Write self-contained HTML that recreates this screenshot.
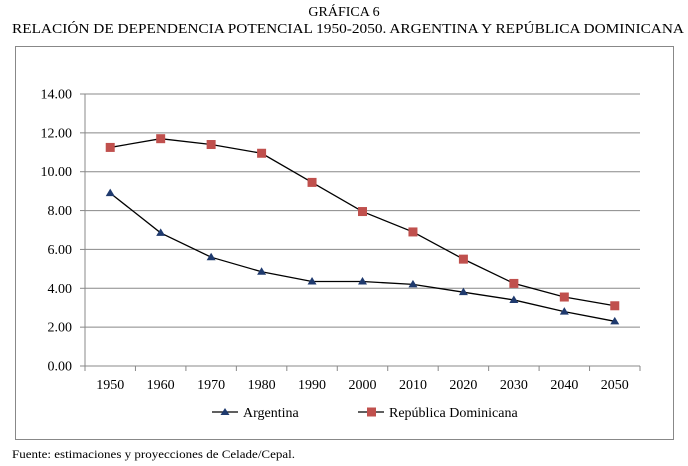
<!DOCTYPE html>
<html><head><meta charset="utf-8"><style>
body{margin:0;background:#fff;}
svg{display:block;}
svg text{font-family:"Liberation Serif",serif;}
</style></head><body>
<svg width="688" height="466">
<text x="344" y="16" text-anchor="middle" font-size="14">GRÁFICA 6</text>
<text x="12" y="33" font-size="14" textLength="672" lengthAdjust="spacingAndGlyphs">RELACIÓN DE DEPENDENCIA POTENCIAL 1950-2050. ARGENTINA Y  REPÚBLICA DOMINICANA</text>
<rect x="15.5" y="46.5" width="658" height="393" fill="none" stroke="#888"/>
<g id="grid"></g><g id="axes"></g><g id="series"></g>
<g>
<line x1="212" y1="412" x2="238" y2="412" stroke="#000" stroke-width="1.3"/>
<polygon points="225,408 229.5,415 220.5,415" fill="#1f3a6e"/>
<text x="243" y="417" font-size="14">Argentina</text>
<line x1="358" y1="412" x2="384" y2="412" stroke="#000" stroke-width="1.3"/>
<rect x="367" y="407.5" width="9" height="9" fill="#c0504d"/>
<text x="389" y="417" font-size="14">República Dominicana</text>
</g>
<text x="12" y="458" font-size="12" textLength="283" lengthAdjust="spacingAndGlyphs">Fuente: estimaciones y proyecciones de Celade/Cepal.</text>
</svg>
<script>
const categories=["1950","1960","1970","1980","1990","2000","2010","2020","2030","2040","2050"];
const argentina=[8.9,6.85,5.6,4.85,4.35,4.35,4.2,3.8,3.4,2.8,2.3];
const dominicana=[11.25,11.7,11.4,10.95,9.45,7.95,6.9,5.5,4.25,3.55,3.1];
const yTicks=[0,2,4,6,8,10,12,14];
const NS="http://www.w3.org/2000/svg";
const x0=85,x1=640,y0=366,y1=94,ymax=14;
const band=(x1-x0)/categories.length;
const xs=i=>x0+band*(i+0.5);
const ys=v=>y0-(v/ymax)*(y0-y1);
function mk(t,a,p){const e=document.createElementNS(NS,t);for(const k in a)e.setAttribute(k,a[k]);p.appendChild(e);return e;}
const grid=document.getElementById('grid'),axes=document.getElementById('axes'),ser=document.getElementById('series');
yTicks.forEach(v=>{
 const l=mk('line',{x1:x0,x2:x1,y1:ys(v),y2:ys(v),stroke:'#888','stroke-width':1},grid);
 
 
 mk('line',{x1:x0-5,x2:x0,y1:ys(v),y2:ys(v),stroke:'#888'},axes);
 const t=mk('text',{x:x0-13,y:ys(v)+4.5,'text-anchor':'end','font-size':14},axes);
 t.textContent=v.toFixed(2);
 
 
});
mk('line',{x1:x0,x2:x0,y1:y1,y2:y0,stroke:'#888'},axes);
for(let i=0;i<=categories.length;i++)mk('line',{x1:x0+band*i,x2:x0+band*i,y1:y0,y2:y0+5,stroke:'#888'},axes);
categories.forEach((c,i)=>{
 const t=mk('text',{x:xs(i),y:y0+23,'text-anchor':'middle','font-size':14},axes);
 t.textContent=c;
 
 
});
function line(vals,name){
 const p=mk('polyline',{points:vals.map((v,i)=>xs(i)+','+ys(v)).join(' '),fill:'none',stroke:'#000','stroke-width':1.3},ser);
 
 
}
line(dominicana,'dominicana');line(argentina,'argentina');
dominicana.forEach((v,i)=>{
 const r=mk('rect',{x:xs(i)-4.5,y:ys(v)-4.5,width:9,height:9,fill:'#c0504d'},ser);
 
 
});
argentina.forEach((v,i)=>{
 const x=xs(i),y=ys(v);
 const p=mk('polygon',{points:`${x},${y-4.5} ${x+4.5},${y+3} ${x-4.5},${y+3}`,fill:'#1f3a6e'},ser);
 
 
});
</script>
</body></html>
